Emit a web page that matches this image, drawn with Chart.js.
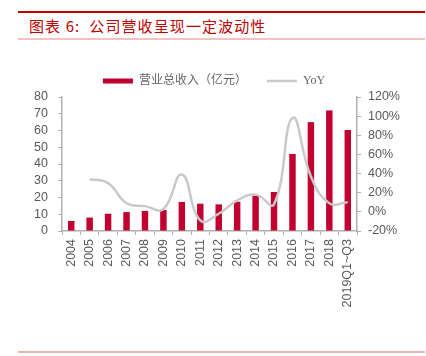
<!DOCTYPE html>
<html><head><meta charset="utf-8">
<script src="https://cdn.jsdelivr.net/npm/chart.js@4/dist/chart.umd.min.js"></script>
<style>
html,body{margin:0;padding:0;background:#fff;}
#wrap{position:relative;width:426px;height:356px;overflow:hidden;}
#c{position:absolute;left:0;top:0;}
.rule{position:absolute;left:18px;width:407px;}
#title{position:absolute;left:29px;top:16px;font-family:"Noto Sans CJK SC";font-weight:normal;font-size:15px;color:#c00000;letter-spacing:1.1px;white-space:nowrap;line-height:20px;}
</style></head>
<body><div id="wrap">
<div class="rule" style="top:11px;height:2px;background:#c00000"></div>
<div id="title">图表 6:&nbsp; 公司营收呈现一定波动性</div>
<div class="rule" style="top:38px;height:2px;background:#f5c0c0"></div>
<div class="rule" style="top:351px;height:2px;background:#f5b0b0"></div>
<canvas id="c" width="426" height="356"></canvas>
</div>
<script>
const categories = ["2004","2005","2006","2007","2008","2009","2010","2011","2012","2013","2014","2015","2016","2017","2018","2019Q1~Q3"];
const revenue = [6, 8, 10.3, 11.3, 12, 12.5, 17.3, 16.3, 15.9, 17.5, 21, 23.3, 46, 65, 72, 60.3];
const yoy = [null, 34, 30, 9, 6, 3, 39, -9, -2, 12, 18, 8, 98, 37, 9, 10];
const revenueLabel = "营业总收入（亿元）";
const yoyLabel = "YoY";

const tickColor = "#595959";
const axisColor = "#b0b0b0";
const tickFont = {family: "Liberation Sans", size: 12.5};

new Chart(document.getElementById('c'), {
  data: {
    labels: categories,
    datasets: [
      {type:'bar', label: revenueLabel, data: revenue, backgroundColor:'#c1002f', yAxisID:'y',
       categoryPercentage:1, barPercentage:0.35, order:2, pointStyle:'rect'},
      {type:'line', label: yoyLabel, data: yoy, borderColor:'#c9c9c9', borderWidth:2.5, yAxisID:'y1',
       tension:0.45, pointRadius:0, spanGaps:false, order:1, pointStyle:'line', fill:false}
    ]
  },
  options: {
    responsive:false, animation:false,
    layout:{padding:{top:55,left:2,right:0,bottom:0}},
    plugins:{
      tooltip:{enabled:false},
      legend:{
        position:'top',
        labels:{
          usePointStyle:true, pointStyleWidth:30, boxWidth:30, boxHeight:5, padding:20,
          color:'#666', font:{family:"Liberation Serif, Noto Sans CJK SC", size:12},
          generateLabels(chart){
            return chart.data.datasets.map((ds,i)=>({
              text: ds.label,
              fillStyle: ds.type==='bar' ? ds.backgroundColor : ds.borderColor,
              strokeStyle: ds.type==='bar' ? ds.backgroundColor : ds.borderColor,
              lineWidth: ds.type==='bar' ? 0 : 2.5,
              pointStyle: ds.pointStyle,
              fontColor:'#666',
              hidden:false, datasetIndex:i
            }));
          }
        }
      }
    },
    scales:{
      x:{
        offset:true,
        grid:{offset:true, drawOnChartArea:false, drawTicks:true, tickLength:4, color:axisColor},
        border:{color:axisColor, width:1.5},
        ticks:{color:tickColor, font:tickFont, maxRotation:90, minRotation:90, padding:4, autoSkip:false},
        afterFit(s){ s.height = 125; }
      },
      y:{
        position:'left', min:0, max:80,
        grid:{drawOnChartArea:false, drawTicks:true, tickLength:4, color:axisColor},
        border:{color:axisColor, width:1.5},
        ticks:{stepSize:10, color:tickColor, font:tickFont, padding:10, autoSkip:false},
        afterFit(s){ s.width = 60; }
      },
      y1:{
        position:'right', min:-20, max:120,
        grid:{drawOnChartArea:false, drawTicks:true, tickLength:4, color:axisColor},
        border:{color:axisColor, width:1.5},
        ticks:{stepSize:20, color:tickColor, font:tickFont, padding:7, autoSkip:false, callback:v=>v+'%'},
        afterFit(s){ s.width = 69; }
      }
    }
  }
});
</script>
</body></html>
